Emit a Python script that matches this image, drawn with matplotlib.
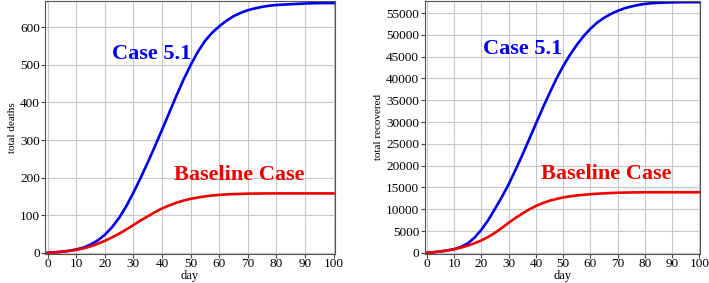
import numpy as np
import matplotlib.pyplot as plt

# values, every 2.5 days
day = np.arange(0, 100.1, 2.5)

deaths_case51 = [0, 1.5, 3, 5.5, 9, 14, 22, 33, 48, 68, 93, 124, 160, 199, 240, 283, 327,
                 372, 417, 460, 499, 534, 563, 585, 602, 617, 629, 638, 645, 650, 654,
                 657, 659, 660, 661, 662, 663, 663.5, 664, 664, 664]
deaths_base = [0, 1.2, 2.8, 5, 8, 12, 17, 24, 32, 41, 51, 62, 74, 86, 97, 108, 118,
               126, 133, 139, 143.5, 147, 150, 152.5, 154, 155.3, 156.2, 156.8, 157.3,
               157.6, 157.8, 158, 158, 158, 158, 158, 158, 158, 158, 158, 158]

recov_case51 = [0, 150, 330, 550, 850, 1350, 2150, 3500, 5300, 7500, 10100, 12800,
                15700, 19000, 22400, 26000, 29600, 33200, 36600, 39900, 42800, 45400,
                47700, 49700, 51400, 52800, 53900, 54800, 55500, 56100, 56500, 56850,
                57100, 57250, 57350, 57400, 57450, 57480, 57500, 57500, 57500]
recov_base = [0, 150, 330, 550, 820, 1200, 1650, 2200, 2850, 3650, 4600, 5700, 6900,
              8000, 9000, 9950, 10750, 11400, 11950, 12350, 12700, 12950, 13150, 13320,
              13450, 13560, 13650, 13720, 13780, 13820, 13850, 13870, 13890, 13900,
              13900, 13900, 13900, 13900, 13900, 13900, 13900]

plt.rcParams['font.family'] = ['Liberation Serif', 'DejaVu Serif']

fig = plt.figure(figsize=(7.09, 2.83), dpi=100)
ax1 = fig.add_axes([0.064, 0.103, 0.408, 0.894])
ax2 = fig.add_axes([0.599, 0.103, 0.389, 0.894])

def style(ax, ylab, ymax, ystep):
    ax.set_xlim(-0.8, 100.4)
    ax.set_ylim(-ymax * 0.004, ymax)
    ax.set_xticks(range(0, 101, 10))
    ax.set_yticks(np.arange(0, ymax, ystep))
    ax.grid(color='#c8c8c8', lw=0.8)
    ax.set_axisbelow(True)
    ax.tick_params(labelsize=9.5, length=3, width=0.8, color='#444444', pad=1)
    ax.tick_params(axis='x', pad=0)
    for s in ax.spines.values():
        s.set_color('#555555')
        s.set_linewidth(0.8)
    ax.set_xlabel('day', fontsize=9, labelpad=0)
    ax.set_ylabel(ylab, fontsize=8, labelpad=2)

ax1.plot(day, deaths_case51, color='#0000ee', lw=1.9)
ax1.plot(day, deaths_base, color='#ee0000', lw=1.9)
style(ax1, 'total deaths', 670, 100)
ax1.text(36.5, 529, 'Case 5.1', color='#0000ee', fontsize=16, fontweight='bold',
         ha='center', va='center')
ax1.text(67, 206, 'Baseline Case', color='#ee0000', fontsize=16, fontweight='bold',
         ha='center', va='center')

ax2.plot(day, recov_case51, color='#0000ee', lw=1.9)
ax2.plot(day, recov_base, color='#ee0000', lw=1.9)
style(ax2, 'total recovered', 57800, 5000)
ax2.text(35.3, 46800, 'Case 5.1', color='#0000ee', fontsize=16, fontweight='bold',
         ha='center', va='center')
ax2.text(66, 18000, 'Baseline Case', color='#ee0000', fontsize=16, fontweight='bold',
         ha='center', va='center')

fig.savefig('out.png', dpi=100)
